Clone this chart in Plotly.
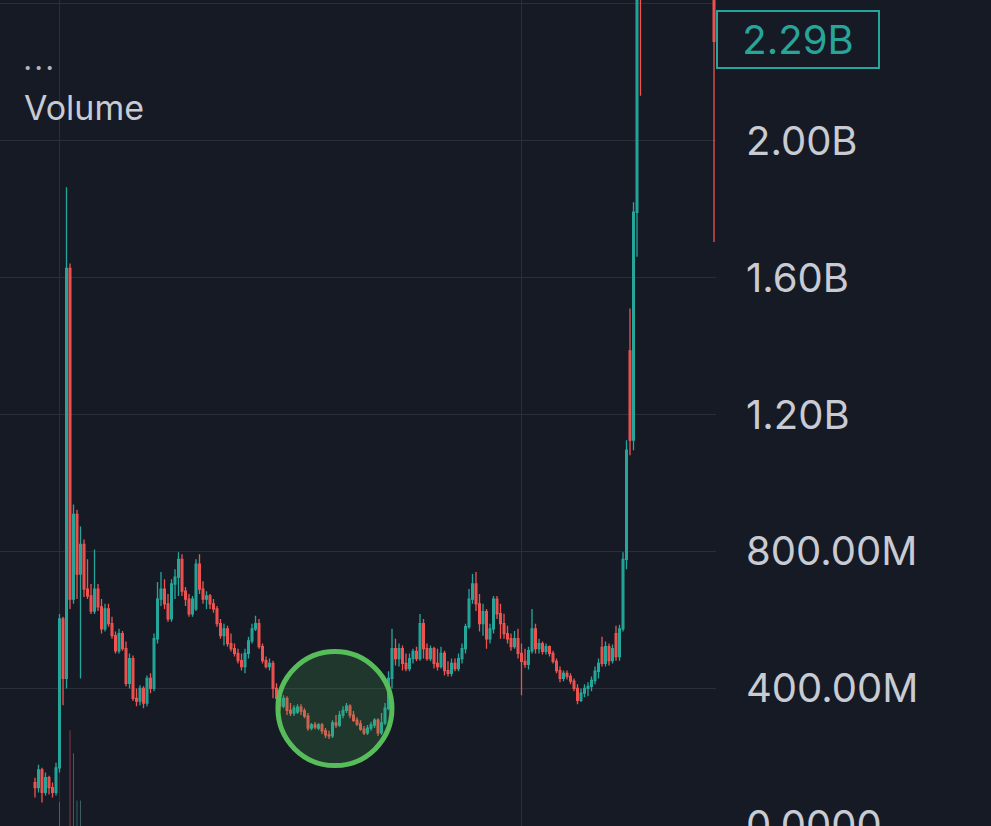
import plotly.graph_objects as go

# ---- data (values in millions) ----
open_ = [125,110,162,96,139,110,96,168,603,429,
         1627,661,908,734,821,690,670,626,690,638,
         574,632,589,554,510,560,516,415,487,371,
         363,400,357,429,400,545,661,690,647,603,
         705,725,777,684,661,618,632,763,690,661,
         670,647,632,589,554,574,531,516,502,481,
         464,502,539,574,589,522,481,464,473,400,
         371,348,371,336,328,331,345,334,319,284,
         293,284,293,276,264,261,299,293,322,336,
         348,322,307,296,281,270,284,293,307,270,
         299,342,429,516,487,516,473,458,487,508,
         487,589,516,487,516,473,464,502,452,444,
         473,458,487,516,580,661,705,647,589,624,
         545,574,661,618,589,560,545,522,545,502,
         479,470,510,574,516,531,508,522,502,479,
         452,429,444,435,421,400,365,386,400,406,
         423,450,520,473,522,481,560,493,574,777,
         1386,1125,1791,2600,
         2450,2480,2550,2620,2580,2700,2760,2690,2820,2900,
         2850,2960,3050,2980,2900,2820,2760,2700,2650,2600,
         2540]
high = [139,177,168,154,145,125,183,617,609,1864,
        1641,937,922,873,835,777,705,806,705,661,
        647,647,609,566,574,568,537,502,496,400,
        409,406,438,444,560,711,740,719,676,719,
        748,798,792,696,676,670,777,792,713,684,
        676,661,641,603,589,583,560,531,516,502,
        516,551,589,612,603,531,493,487,481,415,
        400,380,377,357,351,354,354,342,328,299,
        302,299,299,284,276,307,322,334,348,357,
        354,334,316,307,290,293,302,313,313,328,
        357,450,574,545,531,525,502,502,516,522,
        617,603,531,525,522,516,522,510,479,487,
        487,502,531,589,690,734,740,676,647,632,
        589,670,670,647,618,583,560,568,574,531,
        516,522,632,589,545,537,531,525,510,487,
        464,452,452,444,429,412,400,412,418,435,
        464,487,551,537,531,528,583,586,798,1125,
        1510,1820,2520,2650,
        2530,2600,2670,2660,2750,2810,2800,2870,2950,2940,
        3010,3100,3090,3020,2940,2860,2800,2740,2690,2640,
        2580]
low = [81,96,67,87,90,81,87,154,351,400,
       632,647,661,429,667,661,617,617,626,560,
       566,580,545,502,502,510,406,400,363,348,
       351,342,348,386,392,531,641,632,595,595,
       661,670,670,641,609,609,626,676,647,632,
       632,621,580,545,525,522,508,493,473,452,
       444,487,531,568,516,473,458,452,371,357,
       336,342,322,319,319,325,322,313,276,278,
       281,278,267,255,252,255,284,287,313,328,
       313,302,290,276,264,264,276,284,261,264,
       293,336,400,467,464,452,450,450,473,479,
       481,487,481,479,458,452,458,438,435,435,
       450,450,473,502,574,647,626,566,554,516,
       531,560,603,545,545,531,510,516,487,380,
       460,455,502,502,502,499,499,493,473,444,
       418,421,426,412,392,354,360,374,377,392,
       412,429,464,464,467,473,481,481,566,748,
       1081,1096,1661,2131,
       2420,2440,2510,2540,2540,2660,2650,2650,2780,2810,
       2810,2920,2940,2860,2780,2720,2660,2610,2560,2520,
       1704]
close = [110,162,96,139,110,96,168,603,429,1627,
         661,908,734,821,690,670,626,690,638,574,
         632,589,554,510,560,516,415,487,371,363,
         400,357,429,400,545,661,690,647,603,705,
         725,777,684,661,618,661,763,690,661,670,
         647,632,589,554,574,531,516,502,481,464,
         502,539,574,589,522,481,464,473,400,371,
         348,371,336,328,342,345,334,319,284,293,
         287,293,276,264,261,299,293,322,336,348,
         322,307,296,281,270,284,293,307,270,299,
         342,429,516,487,516,473,458,487,508,487,
         589,516,487,516,473,464,502,452,444,473,
         458,487,516,580,661,705,647,589,624,545,
         574,661,618,589,560,545,522,545,502,479,
         470,510,574,516,531,508,522,502,479,452,
         429,444,435,421,400,365,386,400,406,423,
         450,473,473,522,481,516,493,574,777,1096,
         1125,1791,2450,2450,
         2480,2550,2620,2580,2700,2760,2690,2820,2900,2850,
         2960,3050,2980,2900,2820,2760,2700,2650,2600,2560,
         2290]
candle_idx = list(range(len(close)))

vol_idx = [7, 10, 11, 12, 13]
vol_val = [52.9, 61.6, 58.8, 53.1, 53.1]
vol_col = ["rgba(38,166,154,0.55)", "rgba(239,83,80,0.5)", "rgba(160,120,120,0.55)",
           "rgba(38,166,154,0.55)", "rgba(100,150,140,0.55)"]

y_tickvals = [0, 400, 800, 1200, 1600, 2000, 2400]
y_ticktext = ["0.0000", "400.00M", "800.00M", "1.20B", "1.60B", "2.00B", ""]
x_gridvals = [7.14, 138.9]
last_label = "2.29B"

BG = "#161a25"
GRID = "#2a2e39"
UP = "#26a69a"
DOWN = "#ef5350"
TXT = "#c9cbd3"

fig = go.Figure()
fig.add_trace(go.Candlestick(
    x=candle_idx, open=open_, high=high, low=low, close=close,
    increasing=dict(line=dict(color=UP, width=1.3), fillcolor=UP),
    decreasing=dict(line=dict(color=DOWN, width=1.3), fillcolor=DOWN),
    whiskerwidth=0, showlegend=False, hoverinfo="skip"))
fig.add_trace(go.Bar(x=vol_idx, y=vol_val, yaxis="y2", width=0.3,
                     marker=dict(color=vol_col, line=dict(width=0)),
                     showlegend=False, hoverinfo="skip"))

fig.update_layout(
    width=991, height=826,
    paper_bgcolor=BG, plot_bgcolor=BG,
    margin=dict(l=0, r=275, t=0, b=0, autoexpand=False),
    font=dict(family="Inter", color=TXT),
    xaxis=dict(range=[-10, 194.57], showticklabels=False, tickvals=x_gridvals,
               showgrid=True, gridcolor=GRID, gridwidth=1, zeroline=False, automargin=False,
               showline=False, ticks="", rangeslider=dict(visible=False), fixedrange=True),
    yaxis=dict(side="right", range=[-2, 2411], tickvals=y_tickvals, ticktext=y_ticktext,
               showgrid=True, gridcolor=GRID, gridwidth=1, zeroline=False, showline=False,
               ticks="", tickfont=dict(family="Inter", size=40, color=TXT), automargin=False,
               ticklabelstandoff=29, ticklabeloverflow="allow"),
    yaxis2=dict(overlaying="y", range=[50, 150], visible=False),
    showlegend=False,
)

# highlight circle
fig.add_shape(type="circle", xref="x", yref="y", xsizemode="pixel", ysizemode="pixel",
              xanchor=85.7, yanchor=341, x0=-57, x1=57, y0=-57, y1=57,
              line=dict(color="#57bd5a", width=5), fillcolor="rgba(76,175,80,0.2)",
              layer="above")

# last price label
fig.add_annotation(x=1.0, xref="paper", xanchor="left", y=close[-1], yref="y",
                   yanchor="middle", yshift=2, text=last_label, showarrow=False,
                   font=dict(family="Inter", size=40, color="#26a69a"),
                   bordercolor="#26a69a", borderwidth=2, borderpad=0,
                   width=160, height=55, align="center", bgcolor=BG)

fig.add_annotation(x=22/716, xref="paper", xanchor="left", y=1-67/826, yref="paper",
                   yanchor="middle", text="• • •", showarrow=False,
                   font=dict(family="Inter", size=13, color="#b2b5be"))
fig.add_annotation(x=22/716, xref="paper", xanchor="left", y=1-107/826, yref="paper",
                   yanchor="middle", text="Volume", showarrow=False,
                   font=dict(family="Inter", size=34, color=TXT))

fig.write_html("out.html", config={"displayModeBar": False},
               post_script="document.body.style.margin='0';document.body.style.overflow='hidden';")
